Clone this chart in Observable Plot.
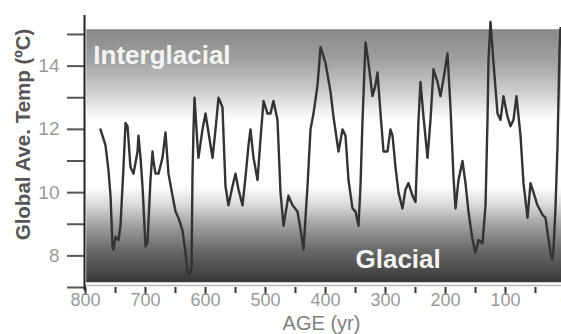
<!DOCTYPE html>
<html>
<head>
<meta charset="utf-8">
<script src="https://cdn.jsdelivr.net/npm/d3@7"></script>
<script src="https://cdn.jsdelivr.net/npm/@observablehq/plot@0.6"></script>
<style>
  html, body { margin: 0; padding: 0; background: #fff; overflow: hidden; }
  svg { overflow: hidden; }
</style>
</head>
<body>
<div id="chart"></div>
<script>
// Age (thousand years before present) and global average temperature (ºC)
const ages = [775, 766.7, 761.7, 758.3, 755, 753.3, 750, 745, 741.7, 736.7, 733.3, 730, 725, 720, 713.3, 711.7, 708.3, 705, 700, 696.7,
  691.7, 688.3, 686.7, 683.3, 678.3, 671.7, 666.7, 661.7, 655, 650, 645, 638.3, 633.3, 630, 626.7, 623.3, 621.7, 620, 618.3, 613.3,
  611.7, 605, 600, 595, 588.3, 583.3, 578.3, 571.7, 566.7, 561.7, 555, 550, 545, 538.3, 533.3, 528.3, 525, 520, 513.3, 508.3,
  503.3, 496.7, 491.7, 486.7, 480, 475, 470, 461.7, 455, 446.7, 441.7, 436.7, 430, 425, 420, 413.3, 408.3, 400, 391.7, 386.7,
  378.3, 371.7, 366.7, 361.7, 355, 350, 345, 341.7, 338.3, 333.3, 328.3, 321.7, 316.7, 313.3, 308.3, 303.3, 296.7, 291.7, 288.3, 283.3,
  278.3, 271.7, 266.7, 261.7, 255, 250, 245, 241.7, 236.7, 230, 225, 220, 213.3, 208.3, 203.3, 196.7, 191.7, 186.7, 183.3, 178.3,
  171.7, 166.7, 161.7, 155, 150, 145, 138.3, 133.3, 130, 128.3, 125, 120, 113.3, 108.3, 103.3, 96.7, 91.7, 86.7, 81.7, 75,
  70, 63.3, 58.3, 53.3, 46.7, 38.3, 33.3, 30, 25, 21.7, 20, 16.7, 13.3, 10, 8.3];
const temps = [12.0, 11.5, 10.7, 9.9, 8.3, 8.2, 8.6, 8.5, 8.95, 10.8, 12.2, 12.1, 10.8, 10.6, 11.3, 11.8, 11.1, 10.2, 8.3, 8.4,
  10.4, 11.3, 11.0, 10.6, 10.6, 11.1, 11.9, 10.6, 9.9, 9.4, 9.2, 8.8, 8.1, 7.5, 7.4, 7.6, 10.5, 12.0, 13.0, 11.5,
  11.1, 12.0, 12.5, 11.9, 11.1, 12.0, 13.0, 12.7, 10.2, 9.6, 10.2, 10.6, 10.1, 9.6, 10.5, 11.5, 12.0, 11.1, 10.4, 11.7,
  12.9, 12.5, 12.5, 12.9, 12.3, 10.0, 8.95, 9.9, 9.6, 9.4, 8.85, 8.2, 10.2, 12.0, 12.5, 13.4, 14.6, 14.1, 13.2, 12.4,
  11.3, 12.0, 11.8, 10.4, 9.5, 9.4, 8.95, 10.2, 12.3, 14.75, 14.1, 13.05, 13.4, 13.8, 12.5, 11.3, 11.3, 12.0, 11.8, 10.8,
  10.0, 9.5, 10.1, 10.3, 9.9, 9.7, 12.3, 13.5, 12.4, 11.1, 12.3, 13.9, 13.5, 13.05, 13.6, 14.4, 12.7, 10.5, 9.5, 10.4,
  11.0, 10.3, 9.4, 8.5, 8.1, 8.5, 8.4, 9.6, 12.3, 14.2, 15.4, 14.1, 12.5, 12.3, 13.05, 12.4, 12.1, 12.3, 13.05, 11.8,
  10.3, 9.2, 10.3, 10.0, 9.6, 9.3, 9.2, 8.75, 8.1, 7.9, 8.2, 9.5, 11.5, 14.5, 15.2];

const xMajorTicks = [800, 700, 600, 500, 400, 300, 200, 100, 0];
const xMinorTicks = [750, 650, 550, 450, 350, 250, 150, 50];
const yAllTicks = [7, 8, 9, 10, 11, 12, 13, 14, 15];
const yLabelTicks = [8, 10, 12, 14];
const zoneLabels = ["Interglacial", "Glacial"];
const xTitle = "AGE (yr)";
const yTitle = "Global Ave. Temp (ºC)";

const series = ages.map((a, i) => ({age: a, temp: temps[i]}));

const defs = () => {
  const ns = "http://www.w3.org/2000/svg";
  const d = document.createElementNS(ns, "defs");
  const g = document.createElementNS(ns, "linearGradient");
  g.setAttribute("id", "bggrad");
  g.setAttribute("x1", "0"); g.setAttribute("y1", "0");
  g.setAttribute("x2", "0"); g.setAttribute("y2", "1");
  const stops = [
    [0, "#888888"], [0.12, "#a0a0a0"], [0.24, "#cbcbcb"], [0.32, "#eeeeee"], [0.36, "#ffffff"],
    [0.62, "#ffffff"], [0.69, "#dcdcdc"], [0.77, "#a4a4a4"], [0.87, "#6a6a6a"], [1, "#383838"]
  ];
  for (const [o, c] of stops) {
    const s = document.createElementNS(ns, "stop");
    s.setAttribute("offset", o);
    s.setAttribute("stop-color", c);
    g.appendChild(s);
  }
  d.appendChild(g);
  return d;
};

const font = "'Liberation Sans', Arial, sans-serif";

const chart = Plot.plot({
  width: 561,
  height: 334,
  marginLeft: 85,
  marginRight: 0,
  marginTop: 15,
  marginBottom: 47,
  style: {fontFamily: font, background: "#fff", overflow: "hidden"},
  x: {domain: [800, 0], range: [85, 565]},
  y: {domain: [7, 15.6], range: [287, 15]},
  marks: [
    defs,
    Plot.rect([{}], {x1: 798, x2: -10, y1: 7.15, y2: 15.15, fill: "url(#bggrad)"}),
    Plot.text([zoneLabels[0]], {x: 787, y: 14.33, text: d => d, textAnchor: "start", fontSize: 26, fontWeight: "bold", fill: "#f4f4f4"}),
    Plot.text([zoneLabels[1]], {x: 350, y: 7.87, text: d => d, textAnchor: "start", fontSize: 26, fontWeight: "bold", fill: "#f4f4f4"}),
    Plot.ruleY([7], {x1: 800, x2: -10, stroke: "#b8b8b8", strokeWidth: 1.5, dy: -2}),
    Plot.axisX({ticks: xMajorTicks, tickSize: 8, tickPadding: -2, fontSize: 18, fill: "#9a9a9a", stroke: "#333", strokeWidth: 2, label: null, tickFormat: d => String(d)}),
    Plot.ruleX(xMinorTicks, {y1: 7, y2: 6.81, stroke: "#333", strokeWidth: 2}),
    Plot.axisY({ticks: yAllTicks, tickSize: 18, stroke: "#555", strokeWidth: 2, tickFormat: () => "", label: null}),
    Plot.axisY({ticks: yLabelTicks, tickSize: 0, tickPadding: 26, fontSize: 19, fill: "#9a9a9a", label: null, tickFormat: d => String(d)}),
    Plot.ruleX([800], {y1: 6.9, y2: 15.6, stroke: "#222", strokeWidth: 2, dx: -1}),
    Plot.line(series, {x: "age", y: "temp", stroke: "#333333", strokeWidth: 2.4, strokeLinejoin: "round"}),
    Plot.text([xTitle], {x: 406.7, y: 5.86, text: d => d, fontSize: 20, fill: "#808080"}),
    Plot.text([yTitle], {x: 903, y: 11.84, text: d => d, rotate: -90, fontSize: 20.5, fontWeight: "bold", fill: "#555"})
  ]
});
document.getElementById("chart").appendChild(chart);
</script>
</body>
</html>
